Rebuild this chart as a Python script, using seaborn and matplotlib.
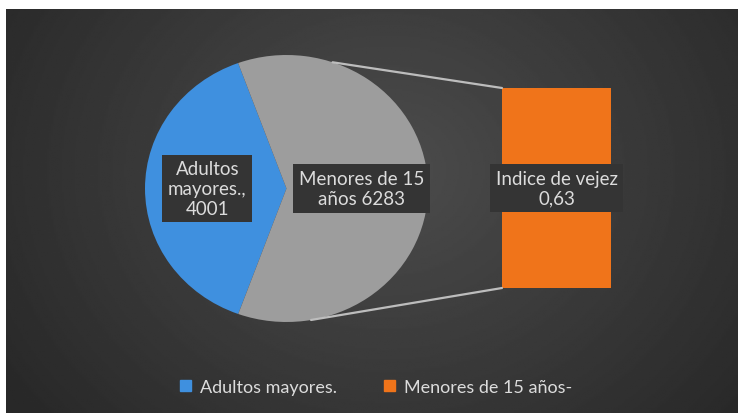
import numpy as np
import pandas as pd
import seaborn as sns
import matplotlib.pyplot as plt
from matplotlib.patches import Patch, ConnectionPatch

# ---------------------------------------------------------------------------
pie_labels = ['Adultos mayores.', 'Menores de 15 años-']
pie_values = [4001, 6283]
pie_text = ['Adultos\nmayores.,\n4001', 'Menores de 15\naños 6283']
bar_label = 'Indice de vejez'
bar_value = 0.63
bar_text = 'Indice de vejez\n0,63'

blue = '#3F90DF'
gray = '#9D9D9D'
orange = '#F0741A'
txt = '#DCDCDC'
box_bg = '#343434'

W, H = 738, 414

sns.set_theme(style='dark')
plt.rcParams['font.family'] = ['Lato', 'DejaVu Sans']


def box(x0, y0, x1, y1):
    # pixel box (top-left origin) -> figure fraction
    return [x0 / W, 1 - y1 / H, (x1 - x0) / W, (y1 - y0) / H]


fig = plt.figure(figsize=(W / 100, H / 100), dpi=100, facecolor='white')

# background panel with radial gradient
ax_bg = fig.add_axes(box(6, 10, W, H))
gx, gy = np.meshgrid(np.linspace(0, 1, 400), np.linspace(0, 1, 220))
r = np.sqrt(((gx - 0.52) / 0.62) ** 2 + ((gy - 0.40) / 0.95) ** 2)
shade = 0.30 - 0.14 * np.clip(r, 0, 1)
ax_bg.imshow(shade, cmap='gray', vmin=0, vmax=1, aspect='auto',
             extent=[0, 1, 1, 0])
ax_bg.axis('off')

# pie
ax_pie = fig.add_axes(box(145, 56, 428, 323))
ax_pie.pie(pie_values, colors=[blue, gray], startangle=110, counterclock=True,
           radius=1, wedgeprops=dict(linewidth=0))
ax_pie.set_aspect('auto')
ax_pie.set_xlim(-1, 1)
ax_pie.set_ylim(-1, 1)
ax_pie.axis('off')

label_style = dict(ha='center', va='center', color=txt, fontsize=13.5,
                   linespacing=1.2,
                   bbox=dict(boxstyle='square,pad=0.3', fc=box_bg, ec='none'))
ax_pie.text(-0.56, 0.0, pie_text[0], **label_style)
ax_pie.text(0.53, 0.0, pie_text[1], **label_style)

# bar of the split
ax_bar = fig.add_axes(box(502, 89, 611, 289))
df_bar = pd.DataFrame({'cat': [bar_label], 'val': [bar_value]})
sns.barplot(data=df_bar, x='cat', y='val', color=orange, width=1,
            saturation=1, ax=ax_bar, linewidth=0)
ax_bar.set_xlim(-0.5, 0.5)
ax_bar.set_ylim(0, bar_value)
ax_bar.axis('off')
ax_bar.text(0, bar_value / 2, bar_text, clip_on=False, **label_style)

# connector lines
for ang, ycorner in [(71, bar_value), (-80, 0)]:
    a = np.deg2rad(ang)
    con = ConnectionPatch(xyA=(np.cos(a), np.sin(a)), coordsA=ax_pie.transData,
                          xyB=(-0.5, ycorner), coordsB=ax_bar.transData,
                          color='#BDBDBD', lw=1.6)
    fig.add_artist(con)

# legend
handles = [Patch(color=blue, label=pie_labels[0]),
           Patch(color=orange, label=pie_labels[1])]
leg = fig.legend(handles=handles, loc='center', bbox_to_anchor=(376 / W, 1 - 388 / H),
                 ncol=2, frameon=False, fontsize=13, handlelength=0.6,
                 handleheight=0.6, handletextpad=0.5, columnspacing=2.6)
for t in leg.get_texts():
    t.set_color(txt)

fig.savefig('out.png', dpi=100, facecolor='white')
